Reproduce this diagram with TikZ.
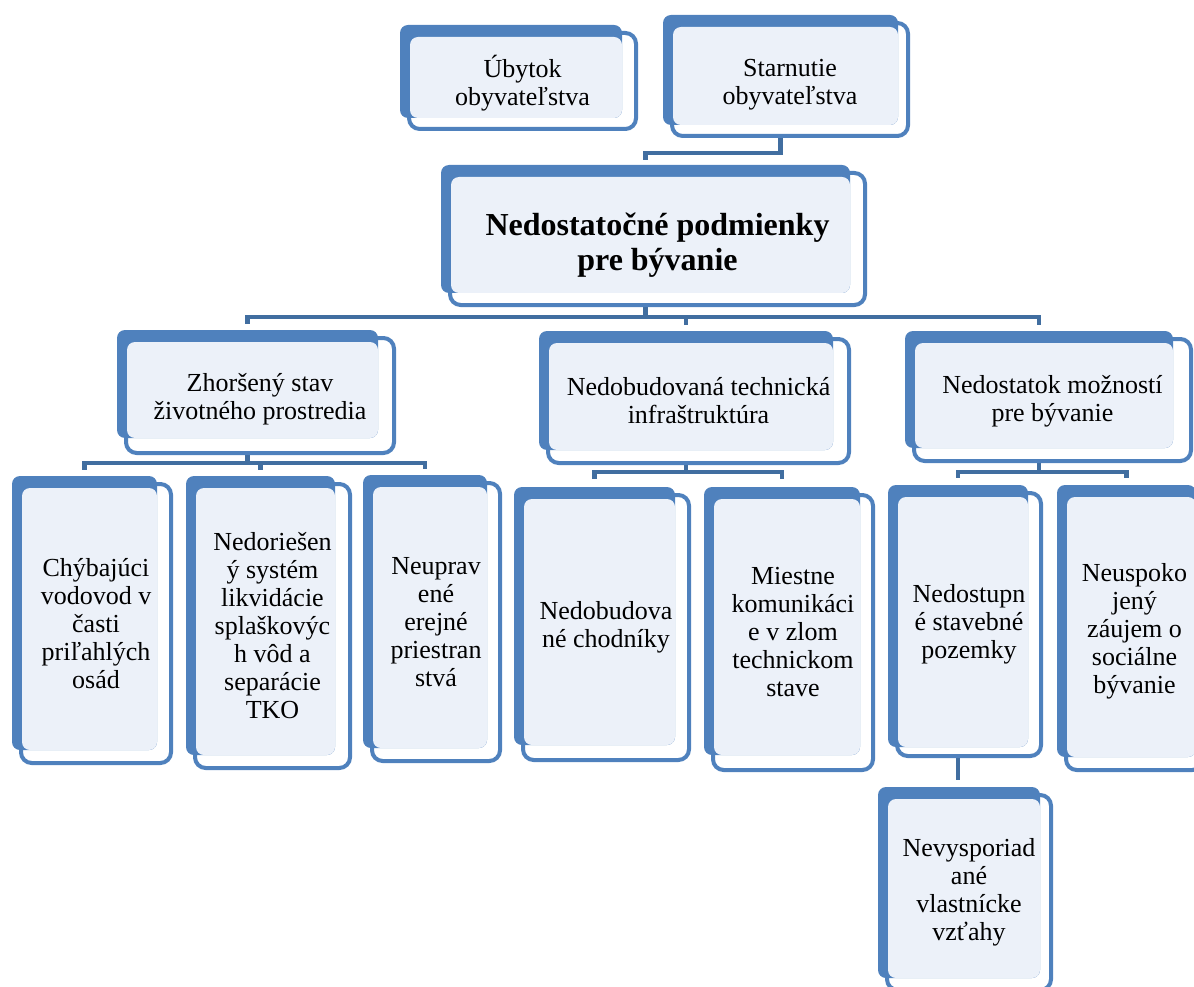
\documentclass[tikz,border=0pt]{standalone}
\usepackage{fontspec}
\setmainfont{Liberation Serif}
\usetikzlibrary{fit}
\pgfdeclarelayer{bg}
\pgfsetlayers{bg,main}
\definecolor{boxblue}{RGB}{79,129,189}
\definecolor{connblue}{RGB}{65,110,160}
\definecolor{lightfill}{RGB}{236,241,249}
\tikzset{
  frontline/.style={draw=boxblue, line width=3pt, fill=white, rounded corners=8pt},
  backbox/.style={draw=none, fill=boxblue, rounded corners=6pt, inner sep=0pt, outer sep=0pt},
  lightbox/.style={fill=lightfill, rounded corners=6pt},
  boxtext/.style={align=center, font=\fontsize{19.5}{21}\selectfont, inner sep=0pt},
  titletext/.style={font=\fontsize{24}{26}\selectfont\bfseries},
  conn/.style={draw=connblue, line width=3.5pt}
}
\newcommand{\diagbox}[9][]{%
  \draw[frontline] ({#3+9},{#4+8}) rectangle ({#7-2},{#8-2});
  \node[backbox, fit={(#3,#4)(#5,#6)}] (#2) {};
  \fill[lightbox] ({#3+10},{#4+12}) rectangle (#5,#6);
  \node[boxtext,#1] (#2-t) at ({(#3+7+#7)/2},{(#4+6+#8)/2}) {#9};
}
\begin{document}
\begin{tikzpicture}[x=0.75pt,y=-0.75pt]
\useasboundingbox (0,0) rectangle (1194,987);
\diagbox[yshift=-1.5pt]{ub}{400}{25}{622}{118}{638}{131}{Úbytok\\obyvateľstva}
\diagbox[yshift=-4pt]{st}{663}{15}{898}{125}{910}{138}{Starnutie\\obyvateľstva}
\diagbox[titletext,yshift=-4.5pt]{main}{441}{165}{850}{293}{867}{307}{Nedostatočné podmienky\\pre bývanie}
\diagbox[yshift=-3pt]{zh}{117}{330}{378}{438}{396}{455}{Zhoršený stav\\životného prostredia}
\diagbox{nt}{539}{331}{833}{450}{851}{465}{Nedobudovaná technická\\infraštruktúra}
\diagbox[yshift=-0.75pt]{nm}{905}{331}{1173}{448}{1193}{463}{Nedostatok možností\\pre bývanie}
\diagbox{ch}{12}{476}{157}{750}{173}{765}{Chýbajúci\\vodovod v\\časti\\priľahlých\\osád}
\diagbox{nr}{186}{476}{335}{755}{352}{770}{Nedoriešen\\ý systém\\likvidácie\\splaškovýc\\h vôd a\\separácie\\TKO}
\diagbox{nu}{363}{475}{487}{748}{502}{763}{Neuprav\\ené\\erejné\\priestran\\stvá}
\diagbox{nc}{514}{487}{675}{745}{691}{762}{Nedobudova\\né chodníky}
\diagbox{mk}{704}{487}{860}{755}{875}{772}{Miestne\\komunikáci\\e v zlom\\technickom\\stave}
\diagbox{np}{888}{485}{1028}{747}{1043}{758}{Nedostupn\\é stavebné\\pozemky}
\diagbox{ns}{1057}{485}{1196}{757}{1205}{772}{Neuspoko\\jený\\záujem o\\sociálne\\bývanie}
\diagbox{nv}{878}{787}{1040}{978}{1053}{992}{Nevysporiad\\ané\\vlastnícke\\vzťahy}
\begin{pgfonlayer}{bg}
\draw[conn, shorten >=3.75pt] (st.south) -- ++(0,28) -| (main.north);
\draw[conn, shorten >=4.5pt] (main.south) -- ++(0,24) -| (zh.north);
\draw[conn, shorten >=4.5pt] (main.south) -- ++(0,24) -| (nt.north);
\draw[conn, shorten >=4.5pt] (main.south) -- ++(0,24) -| (nm.north);
\draw[conn, shorten >=4.5pt] (zh.south) -- ++(0,25) -| (ch.north);
\draw[conn, shorten >=4.5pt] (zh.south) -- ++(0,25) -| (nr.north);
\draw[conn, shorten >=4.5pt] (zh.south) -- ++(0,25) -| (nu.north);
\draw[conn, shorten >=6pt] (nt.south) -- ++(0,22) -| (nc.north);
\draw[conn, shorten >=6pt] (nt.south) -- ++(0,22) -| (mk.north);
\draw[conn, shorten >=5pt] (nm.south) -- ++(0,24) -| (np.north);
\draw[conn, shorten >=5pt] (nm.south) -- ++(0,24) -| (ns.north);
\draw[conn, shorten >=5pt] (np.south) -- (np.south |- nv.north);
\end{pgfonlayer}
\end{tikzpicture}
\end{document}
